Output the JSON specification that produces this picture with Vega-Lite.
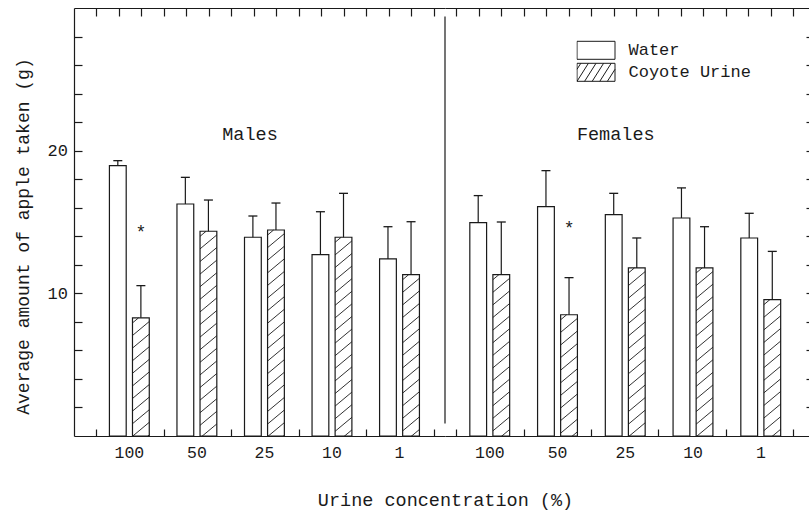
{
  "$schema": "https://vega.github.io/schema/vega-lite/v6.json",
  "padding": {"left": 14, "top": 7, "right": 0, "bottom": 2},
  "background": "white",
  "config": {
    "view": {"stroke": null},
    "font": "Liberation Mono",
    "axis": {"domainColor": "#1a1a1a", "tickColor": "#1a1a1a", "labelColor": "#1a1a1a", "titleColor": "#1a1a1a", "domainWidth": 1.2, "tickWidth": 1.2, "grid": false, "labelFont": "Liberation Mono", "titleFont": "Liberation Mono", "titleFontWeight": "normal"},
    "legend": {"labelFont": "Liberation Mono", "labelColor": "#1a1a1a"}
  },
  "datasets": {
    "bars": [
      {"sex": "Males", "conc": "100", "treatment": "Water", "mean": 18.95, "upper": 19.3},
      {"sex": "Males", "conc": "100", "treatment": "Coyote Urine", "mean": 8.28, "upper": 10.54},
      {"sex": "Males", "conc": "50", "treatment": "Water", "mean": 16.26, "upper": 18.13},
      {"sex": "Males", "conc": "50", "treatment": "Coyote Urine", "mean": 14.35, "upper": 16.54},
      {"sex": "Males", "conc": "25", "treatment": "Water", "mean": 13.93, "upper": 15.42},
      {"sex": "Males", "conc": "25", "treatment": "Coyote Urine", "mean": 14.44, "upper": 16.33},
      {"sex": "Males", "conc": "10", "treatment": "Water", "mean": 12.71, "upper": 15.72},
      {"sex": "Males", "conc": "10", "treatment": "Coyote Urine", "mean": 13.93, "upper": 17.01},
      {"sex": "Males", "conc": "1", "treatment": "Water", "mean": 12.41, "upper": 14.67},
      {"sex": "Males", "conc": "1", "treatment": "Coyote Urine", "mean": 11.31, "upper": 15.02},
      {"sex": "Females", "conc": "100", "treatment": "Water", "mean": 14.96, "upper": 16.85},
      {"sex": "Females", "conc": "100", "treatment": "Coyote Urine", "mean": 11.31, "upper": 15.0},
      {"sex": "Females", "conc": "50", "treatment": "Water", "mean": 16.08, "upper": 18.6},
      {"sex": "Females", "conc": "50", "treatment": "Coyote Urine", "mean": 8.5, "upper": 11.1},
      {"sex": "Females", "conc": "25", "treatment": "Water", "mean": 15.51, "upper": 17.01},
      {"sex": "Females", "conc": "25", "treatment": "Coyote Urine", "mean": 11.78, "upper": 13.88},
      {"sex": "Females", "conc": "10", "treatment": "Water", "mean": 15.28, "upper": 17.39},
      {"sex": "Females", "conc": "10", "treatment": "Coyote Urine", "mean": 11.78, "upper": 14.67},
      {"sex": "Females", "conc": "1", "treatment": "Water", "mean": 13.88, "upper": 15.61},
      {"sex": "Females", "conc": "1", "treatment": "Coyote Urine", "mean": 9.56, "upper": 12.94}
    ],
    "stars": [
      {"sex": "Males", "conc": "100", "treatment": "Coyote Urine", "star": 14.5, "sym": "*"},
      {"sex": "Females", "conc": "50", "treatment": "Coyote Urine", "star": 14.8, "sym": "*"}
    ],
    "panels": [
      {"sex": "Males", "label": "Males", "lx": 7.83, "ly": 21.2},
      {"sex": "Females", "label": "Females", "lx": 24.1, "ly": 21.2}
    ]
  },
  "resolve": {"legend": {"shape": "independent"}},
  "bounds": "flush",
  "spacing": 0,
  "hconcat": [
    {
      "width": 371,
      "height": 428,
      "resolve": {"scale": {"x": "independent"}, "axis": {"x": "independent"}},
      "layer": [
        {
          "data": {"name": "bars"},
          "transform": [{"filter": "datum.sex === 'Males'"}],
          "encoding": {
            "x": {"field": "conc", "type": "nominal", "scale": {"domain": ["100", "50", "25", "10", "1"], "paddingInner": 0, "paddingOuter": 0.2465, "align": 0.648},
              "axis": {"orient": "bottom", "domain": false, "ticks": false, "labelAngle": 0, "labelPadding": 8, "labelFontSize": 16.5, "title": "Urine concentration (%)", "titleFontSize": 18.5, "titleX": 371, "titleY": 63, "titleAlign": "center", "titleBaseline": "middle"}},
            "xOffset": {"field": "treatment", "type": "nominal", "scale": {"domain": ["Water", "Coyote Urine"], "paddingInner": 0.2727, "paddingOuter": 0.6}},
            "y": {"field": "mean", "type": "quantitative", "scale": {"domain": [0, 30], "nice": false},
              "axis": {"orient": "left", "values": [2, 4, 6, 8, 10, 12, 14, 16, 18, 20, 22, 24, 26, 28], "tickCount": 100, "labelOverlap": false, "format": "d", "labelExpr": "datum.value == 10 || datum.value == 20 ? format(datum.value, 'd') : ''", "tickSize": -8, "labelPadding": 14.5, "labelFontSize": 17, "title": "Average amount of apple taken (g)", "titleFontSize": 18, "titleX": -50.5, "titleY": 228, "titleAngle": -90, "titleAlign": "center", "titleBaseline": "middle"}}
          },
          "layer": [
            {"mark": {"type": "bar", "fill": "white", "stroke": "#1a1a1a", "strokeWidth": 1.2}},
            {"transform": [{"filter": "datum.treatment === 'Coyote Urine'"}],
              "mark": {"type": "point", "shape": "M-1,0.6L-0.28,0M-1,2.1L1,0.433M-1,3.6L1,1.933M-1,5.1L1,3.433M-1,6.6L1,4.933M-1,8.1L1,6.433M-1,9.6L1,7.933M-1,11.1L1,9.433M-1,12.6L1,10.933M-1,14.1L1,12.433M-1,15.6L1,13.933M-1,17.1L1,15.433M-1,18.6L1,16.933M-1,20.1L1,18.433M-1,21.6L1,19.933M-1,23.1L1,21.433M-1,24.6L1,22.933M-1,26.1L1,24.433M-1,27.6L1,25.933", "size": 282.24, "filled": false, "color": "#1a1a1a", "stroke": "#1a1a1a", "strokeWidth": 0.9, "opacity": 1, "clip": true}},
            {"mark": {"type": "rule", "stroke": "#1a1a1a", "strokeWidth": 1.2}, "encoding": {"y2": {"field": "upper"}}},
            {"mark": {"type": "tick", "color": "#1a1a1a", "thickness": 1.3, "size": 9, "opacity": 1}, "encoding": {"y": {"field": "upper", "type": "quantitative", "scale": {"domain": [0, 30], "nice": false}}}},
            {"data": {"name": "stars"}, "transform": [{"filter": "datum.sex === 'Males'"}],
              "mark": {"type": "text", "fontSize": 18, "color": "#1a1a1a", "dy": 4},
              "encoding": {"y": {"field": "star", "type": "quantitative", "scale": {"domain": [0, 30], "nice": false}}, "text": {"field": "sym"}}}
          ]
        },
        {
          "data": {"name": "panels"},
          "transform": [{"filter": "datum.sex === 'Males'"}],
          "mark": {"type": "text", "fontSize": 18.5, "color": "#1a1a1a"},
          "encoding": {
            "x": {"field": "lx", "type": "quantitative", "scale": {"domain": [0, 16.504], "nice": false, "zero": false},
              "axis": {"orient": "bottom", "values": [1, 2, 3, 4, 5, 6, 7, 8, 9, 10, 11, 12, 13, 14, 15, 16], "tickCount": 100, "labels": false, "tickSize": -7, "title": null}},
            "y": {"field": "ly", "type": "quantitative", "scale": {"domain": [0, 30], "nice": false}},
            "text": {"field": "label"}
          }
        },
        {
          "data": {"name": "panels"},
          "transform": [{"filter": "datum.sex === 'Males'"}],
          "mark": {"type": "rule", "stroke": "#1a1a1a", "strokeWidth": 1.2},
          "encoding": {
            "x": {"datum": 16.504, "type": "quantitative", "scale": {"domain": [0, 16.504], "nice": false, "zero": false},
              "axis": {"orient": "top", "values": [1, 2, 3, 4, 5, 6, 7, 8, 9, 10, 11, 12, 13, 14, 15, 16], "tickCount": 100, "labels": false, "tickSize": -8, "title": null}},
            "y": {"datum": 0.88, "type": "quantitative", "scale": {"domain": [0, 30], "nice": false}},
            "y2": {"datum": 29.4}
          }
        }
      ]
    },
    {
      "width": 364,
      "height": 428,
      "resolve": {"scale": {"x": "independent"}, "axis": {"x": "independent"}},
      "layer": [
        {
          "data": {"name": "bars"},
          "transform": [{"filter": "datum.sex === 'Females'"}],
          "encoding": {
            "x": {"field": "conc", "type": "nominal", "scale": {"domain": ["100", "50", "25", "10", "1"], "paddingInner": 0, "paddingOuter": 0.1863, "align": 0.4347},
              "axis": {"orient": "bottom", "domain": false, "ticks": false, "labelAngle": 0, "labelPadding": 8, "labelFontSize": 16.5, "title": null}},
            "xOffset": {"field": "treatment", "type": "nominal", "scale": {"domain": ["Water", "Coyote Urine"], "paddingInner": 0.2727, "paddingOuter": 0.6}},
            "y": {"field": "mean", "type": "quantitative", "scale": {"domain": [0, 30], "nice": false},
              "axis": {"orient": "right", "values": [2, 4, 6, 8, 10, 12, 14, 16, 18, 20, 22, 24, 26, 28], "tickCount": 100, "labels": false, "tickSize": -3, "domain": false, "title": null}}
          },
          "layer": [
            {"mark": {"type": "bar", "fill": "white", "stroke": "#1a1a1a", "strokeWidth": 1.2}},
            {"transform": [{"filter": "datum.treatment === 'Coyote Urine'"}],
              "mark": {"type": "point", "shape": "M-1,0.6L-0.28,0M-1,2.1L1,0.433M-1,3.6L1,1.933M-1,5.1L1,3.433M-1,6.6L1,4.933M-1,8.1L1,6.433M-1,9.6L1,7.933M-1,11.1L1,9.433M-1,12.6L1,10.933M-1,14.1L1,12.433M-1,15.6L1,13.933M-1,17.1L1,15.433M-1,18.6L1,16.933M-1,20.1L1,18.433M-1,21.6L1,19.933M-1,23.1L1,21.433M-1,24.6L1,22.933M-1,26.1L1,24.433M-1,27.6L1,25.933", "size": 282.24, "filled": false, "color": "#1a1a1a", "stroke": "#1a1a1a", "strokeWidth": 0.9, "opacity": 1, "clip": true}},
            {"mark": {"type": "rule", "stroke": "#1a1a1a", "strokeWidth": 1.2}, "encoding": {"y2": {"field": "upper"}}},
            {"mark": {"type": "tick", "color": "#1a1a1a", "thickness": 1.3, "size": 9, "opacity": 1}, "encoding": {"y": {"field": "upper", "type": "quantitative", "scale": {"domain": [0, 30], "nice": false}}}},
            {"data": {"name": "stars"}, "transform": [{"filter": "datum.sex === 'Females'"}],
              "mark": {"type": "text", "fontSize": 18, "color": "#1a1a1a", "dy": 4},
              "encoding": {"y": {"field": "star", "type": "quantitative", "scale": {"domain": [0, 30], "nice": false}}, "text": {"field": "sym"}}},
            {"mark": {"type": "point", "size": 0, "filled": false, "color": "#1a1a1a", "stroke": "#1a1a1a", "strokeWidth": 1, "opacity": 1},
              "encoding": {"shape": {"field": "treatment", "type": "nominal",
                "scale": {"domain": ["Water", "Coyote Urine"], "range": ["M-1,-0.4737H1V0.4737H-1Z", "M-1,-0.4737H1V0.4737H-1ZM-1,-0.158L-0.8,-0.4737M-1,0.4737L-0.4,-0.4737M-0.6,0.4737L0,-0.4737M-0.2,0.4737L0.4,-0.4737M0.2,0.4737L0.8,-0.4737M0.6,0.4737L1,-0.158"]},
                "legend": {"title": null, "orient": "none", "legendX": 131.5, "legendY": 31.3, "symbolSize": 1444, "symbolStrokeWidth": 1, "symbolStrokeColor": "#1a1a1a", "symbolFillColor": "transparent", "clipHeight": 22, "labelOffset": 13, "labelFontSize": 17, "padding": 0, "rowPadding": 0}}}}
          ]
        },
        {
          "data": {"name": "panels"},
          "transform": [{"filter": "datum.sex === 'Females'"}],
          "mark": {"type": "text", "fontSize": 18.5, "color": "#1a1a1a"},
          "encoding": {
            "x": {"field": "lx", "type": "quantitative", "scale": {"domain": [16.504, 32.697], "nice": false, "zero": false},
              "axis": {"orient": "bottom", "values": [17, 18, 19, 20, 21, 22, 23, 24, 25, 26, 27, 28, 29, 30, 31, 32], "tickCount": 100, "labels": false, "tickSize": -7, "title": null}},
            "y": {"field": "ly", "type": "quantitative", "scale": {"domain": [0, 30], "nice": false}},
            "text": {"field": "label"}
          }
        },
        {
          "data": {"name": "panels"},
          "transform": [{"filter": "datum.sex === 'Females'"}],
          "mark": {"type": "rule", "strokeOpacity": 0},
          "encoding": {
            "x": {"datum": 16.504, "type": "quantitative", "scale": {"domain": [16.504, 32.697], "nice": false, "zero": false},
              "axis": {"orient": "top", "values": [17, 18, 19, 20, 21, 22, 23, 24, 25, 26, 27, 28, 29, 30, 31, 32], "tickCount": 100, "labels": false, "tickSize": -8, "title": null}},
            "y": {"datum": 0.88, "type": "quantitative", "scale": {"domain": [0, 30], "nice": false}},
            "y2": {"datum": 29.4}
          }
        }
      ]
    }
  ]
}
